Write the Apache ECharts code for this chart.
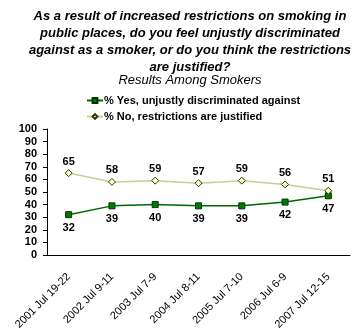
<!DOCTYPE html>
<html><head><meta charset="utf-8">
<script src="https://cdn.jsdelivr.net/npm/echarts@6/dist/echarts.min.js"></script>
<style>html,body{margin:0;padding:0;background:#fff}#c{width:361px;height:336px}</style>
</head><body><div id="c"></div>
<script>
var categories = ['2001 Jul 19-22','2002 Jul 9-11','2003 Jul 7-9','2004 Jul 8-11','2005 Jul 7-10','2006 Jul 6-9','2007 Jul 12-15'];
var yesValues = [32, 39, 40, 39, 39, 42, 47];
var noValues = [65, 58, 59, 57, 59, 56, 51];
var yTicks = [0,10,20,30,40,50,60,70,80,90,100];
var seriesNames = ['% Yes, unjustly discriminated against', '% No, restrictions are justified'];
var titleText = 'As a result of increased restrictions on smoking in\npublic places, do you feel unjustly discriminated\nagainst as a smoker, or do you think the restrictions\nare justified?';
var subtitleText = 'Results Among Smokers';

var chart = echarts.init(document.getElementById('c'), null, {renderer:'canvas'});
var F = 'Arial, "Liberation Sans", sans-serif';
chart.setOption({
  animation: false,
  backgroundColor: '#fff',
  title: {
    text: titleText,
    subtext: subtitleText,
    left: 190, textAlign: 'center', top: 8,
    itemGap: -3,
    padding: 0,
    textStyle: {fontFamily: F, fontSize: 13, fontWeight: 'bold', fontStyle: 'italic', color: '#000', lineHeight: 17},
    subtextStyle: {fontFamily: F, fontSize: 13, fontStyle: 'italic', color: '#000', lineHeight: 14}
  },
  legend: {
    orient: 'vertical', left: 86, top: 95, itemGap: 5,
    itemWidth: 16, itemHeight: 6, padding: 0,
    textStyle: {fontFamily: F, fontSize: 11, fontWeight: 'bold', color: '#000', padding: [0,0,0,-4]},
    data: seriesNames
  },
  grid: {left: 47, right: 11, top: 129, bottom: 81, containLabel: false},
  xAxis: {
    type: 'category', data: categories, boundaryGap: true,
    axisLine: {lineStyle: {color: '#000', width: 1}},
    axisTick: {show: false},
    axisLabel: {rotate: 45, fontFamily: F, fontSize: 11, color: '#000', margin: 20, interval: 0}
  },
  yAxis: {
    type: 'value', min: yTicks[0], max: yTicks[yTicks.length-1], interval: 10,
    splitLine: {show: false},
    axisLine: {show: true, lineStyle: {color: '#000', width: 1}},
    axisTick: {show: true, length: 4, lineStyle: {color: '#000'}},
    axisLabel: {fontFamily: F, fontSize: 11, fontWeight: 'bold', color: '#000', margin: 10}
  },
  series: [
    {
      name: seriesNames[0], type: 'line', data: yesValues,
      symbol: 'rect', symbolSize: 6,
      lineStyle: {color: '#006600', width: 1.5},
      itemStyle: {color: '#007a00', borderColor: '#003300', borderWidth: 1},
      label: {show: true, position: 'bottom', distance: 4, fontFamily: F, fontSize: 11, fontWeight: 'bold', color: '#000'}
    },
    {
      name: seriesNames[1], type: 'line', data: noValues,
      symbol: 'diamond', symbolSize: 7,
      lineStyle: {color: '#cccc99', width: 1.5},
      itemStyle: {color: '#ffffcc', borderColor: '#333300', borderWidth: 1},
      label: {show: true, position: 'top', distance: 2, fontFamily: F, fontSize: 11, fontWeight: 'bold', color: '#000'}
    }
  ]
});
</script></body></html>
